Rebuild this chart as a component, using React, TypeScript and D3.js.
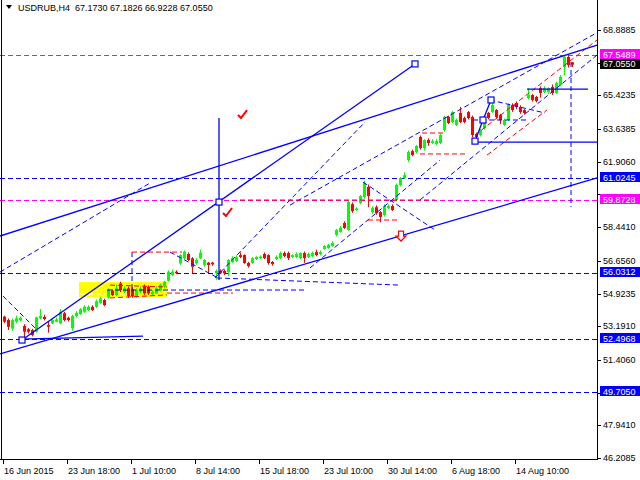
import React from "react";
import * as d3 from "d3";

const opens = [53.70,53.52,53.07,53.43,53.52,53.20,53.03,52.99,52.90,53.61,53.69,53.25,53.34,53.43,53.34,53.88,53.64,53.09,53.73,53.84,53.96,54.05,54.22,54.22,54.43,54.58,54.72,55.07,54.84,55.46,55.02,55.20,55.15,54.77,55.02,55.29,55.29,54.88,54.93,55.11,55.29,55.60,55.91,56.08,56.52,56.79,57.02,56.79,56.52,56.79,56.43,56.56,56.56,55.99,56.13,56.13,56.06,56.59,56.65,56.96,56.96,56.54,56.54,56.75,56.80,57.02,56.96,56.60,56.75,56.80,57.07,57.07,56.86,56.86,56.80,57.07,56.86,56.91,57.12,57.02,57.28,57.33,57.44,58.03,58.19,58.66,58.29,59.66,59.35,59.72,60.04,60.57,59.24,59.50,59.24,59.08,59.45,59.56,59.88,60.67,61.04,62.00,62.47,62.42,63.22,62.63,63.06,62.90,62.85,62.90,63.59,64.28,64.01,63.85,64.49,64.22,64.54,64.28,63.38,63.32,63.69,64.49,64.54,64.65,64.38,63.85,64.12,64.91,65.02,64.81,64.65,65.28,65.44,65.34,65.81,65.60,65.60,65.87,65.55,65.97,66.93,67.46,67.173];
const highs = [53.75,53.60,53.60,53.75,53.70,53.30,53.10,53.05,53.70,54.10,53.80,53.45,53.60,53.65,54.10,53.95,53.70,53.80,54.00,54.15,54.30,54.30,54.30,54.60,54.75,54.65,55.20,55.15,55.40,55.55,55.30,55.30,55.25,55.20,55.30,55.40,55.35,55.10,55.30,55.45,55.60,56.15,56.20,56.15,57.00,57.20,57.10,56.85,56.80,57.25,56.75,56.60,56.60,56.20,56.20,56.20,56.75,56.90,56.95,57.10,57.00,56.60,56.85,56.90,56.95,57.10,57.00,56.65,56.95,57.15,57.15,57.15,57.00,57.10,57.10,57.15,57.10,57.15,57.25,57.20,57.50,57.55,57.70,58.35,58.50,58.75,59.85,59.75,59.50,60.15,60.90,60.70,59.55,59.60,59.30,59.65,59.65,59.65,60.75,61.10,61.35,62.50,62.55,62.80,63.30,63.10,63.15,63.10,63.10,63.40,64.35,64.35,64.60,64.20,64.81,64.30,64.60,64.35,63.45,63.65,64.20,64.55,65.20,64.70,64.45,64.20,65.00,65.00,65.10,64.90,64.70,65.80,65.50,65.40,65.90,65.90,65.85,66.00,66.15,66.50,67.55,67.55,67.1826];
const lows = [53.35,52.99,52.95,53.35,53.45,52.52,52.80,52.65,52.85,53.55,53.50,52.85,53.30,53.40,53.30,53.45,53.45,52.95,53.65,53.80,53.90,54.00,54.00,54.15,54.38,54.25,54.65,54.80,54.80,55.00,54.95,54.70,54.70,54.70,54.95,54.85,54.85,54.85,54.90,55.05,55.20,55.55,55.85,55.95,56.45,56.75,56.65,56.00,56.45,56.75,56.35,55.99,56.40,55.65,55.95,55.90,55.85,56.55,56.60,56.80,56.50,56.30,56.50,56.70,56.75,56.75,56.45,56.40,56.70,56.75,56.85,56.70,56.80,56.80,56.75,56.55,56.80,56.85,56.90,56.95,57.25,57.30,57.40,57.95,58.15,58.35,58.25,59.20,59.30,59.65,59.95,59.50,59.15,59.10,58.70,59.00,59.40,59.30,59.80,60.60,61.00,61.90,62.20,62.35,62.55,62.50,62.75,62.85,62.80,62.85,63.50,63.90,63.95,63.80,63.95,63.95,64.15,63.20,62.95,63.25,63.60,64.15,64.50,64.20,63.90,63.80,64.05,64.55,64.70,64.45,64.40,65.20,65.10,65.05,65.30,65.55,65.50,65.45,65.50,65.90,66.50,66.90,66.9228];
const closes = [53.43,53.16,53.52,53.61,53.64,52.90,52.90,52.72,53.66,53.73,53.57,53.16,53.52,53.55,53.96,53.52,53.52,53.73,53.90,54.09,54.22,54.22,54.05,54.52,54.67,54.31,55.11,54.84,55.20,55.11,55.20,54.79,54.77,55.11,55.20,54.93,54.93,55.02,55.20,55.38,55.55,56.08,56.08,56.00,56.96,57.14,56.70,56.34,56.70,57.09,56.70,56.43,56.47,56.13,56.00,55.99,56.70,56.80,56.85,56.86,56.54,56.38,56.80,56.86,56.88,56.80,56.54,56.49,56.86,57.07,56.91,56.80,56.96,57.02,57.07,56.80,57.02,57.07,56.96,57.12,57.44,57.50,57.60,58.29,58.40,58.40,59.77,59.29,59.43,60.09,60.78,60.09,59.45,59.19,58.98,59.56,59.56,59.35,60.67,61.04,61.20,62.42,62.26,62.74,62.63,63.06,62.90,63.00,63.00,63.32,64.28,63.96,64.54,64.12,64.01,64.01,64.22,63.32,63.22,63.59,64.12,64.22,64.91,64.28,64.12,64.12,64.91,64.65,64.81,64.54,64.49,65.44,65.18,65.12,65.55,65.81,65.81,65.55,66.08,66.40,67.46,67.03,67.055];

const xLabels = ["16 Jun 2015", "23 Jun 18:00", "1 Jul 10:00", "8 Jul 14:00", "15 Jul 18:00", "23 Jul 10:00", "30 Jul 14:00", "6 Aug 18:00", "14 Aug 10:00"];
const xLabelBars = [0, 16, 32, 48, 64, 80, 96, 112, 128];
const yTicks = [68.8885, 67.156, 65.4235, 63.6385, 61.906, 60.1735, 58.441, 56.656, 54.9235, 53.191, 51.406, 49.6735, 47.941, 46.2085];
const magentaLevels = [67.5489, 59.8728];
const blueLevels = [61.0245, 56.0312, 52.4968, 49.705];
const symbol = "USDRUB,H4";

type Pt = [number, number];
const blueSolid: Pt[][] = [
  [[-1, 57.97], [148.25, 68.09]],
  [[-1, 51.72], [148.25, 61.05]],
  [[4.5, 52.46], [102.75, 67.09]],
  [[4, 52.51], [34.75, 52.67]],
  [[53.75, 64.23], [53.75, 55.64]],
  [[130.75, 65.76], [146, 65.76]],
  [[117.75, 62.95], [148.25, 62.95]],
  [[117.75, 63.0], [119.75, 64.12], [121.75, 65.18]],
];
const blueSquares: Pt[] = [[4.5, 52.46], [102.75, 67.09], [53.75, 59.77], [117.75, 63.0], [119.75, 64.12], [121.75, 65.18]];
const blueDashed: Pt[][] = [
  [[-1, 56.06], [36.5, 60.78]],
  [[-0.25, 54.79], [7.75, 53.1]],
  [[52.75, 55.75], [90.25, 64.01]],
  [[76.5, 56.28], [109, 61.99]],
  [[71.5, 59.61], [148.25, 68.75]],
  [[104, 59.88], [148.25, 67.56]],
  [[53.25, 55.75], [99, 55.37]],
  [[25.75, 55.11], [75.75, 55.11]],
  [[32, 57.12], [32, 55.11]],
  [[41.5, 57.12], [53.5, 55.75]],
  [[89.75, 60.83], [107.75, 58.29]],
  [[121.5, 65.18], [135.25, 64.49]],
  [[117.25, 64.12], [130.75, 64.12]],
  [[141.75, 67.19], [141.75, 59.51]],
];
const redDashed: Pt[][] = [
  [[32, 57.12], [44.5, 57.12]],
  [[59, 59.88], [107.75, 59.88]],
  [[91, 58.82], [99, 58.82]],
  [[104, 62.32], [115.75, 62.32]],
  [[117.75, 63.32], [148.25, 68.36]],
  [[26.5, 55.37], [40.75, 55.27]],
  [[26.5, 54.69], [40.75, 54.85]],
  [[40.75, 54.95], [57.25, 54.95]],
  [[120.75, 62.26], [135.75, 64.65]],
  [[104.5, 63.43], [109.75, 63.43]],
];
const whiteDashed: Pt[][] = [[[19, 54.9], [34, 54.9]]];
const yellowBox: Pt[] = [[18.75, 55.53], [40.75, 54.74]];
const redChecks: Pt[] = [[59.5, 64.38], [55.75, 59.19]];
const redArrows: Pt[] = [[99.25, 57.97]];

const FONT = "'Liberation Sans', Arial, sans-serif";
const GREEN = "#00ff00";
const RED = "#ff0000";
const BLUE = "#0000ff";
const MAGENTA = "#ff00ff";

export default function App() {
  const W = 640, H = 480;
  const x = d3.scaleLinear().domain([0, 148.25]).range([4, 597]);
  const y = d3.scaleLinear().domain([46.2085, 68.8885]).range([458, 30]);
  const line = d3.line<Pt>().x((d) => x(d[0])).y((d) => y(d[1]));
  const last = closes[closes.length - 1];
  const boxes = [
    ...magentaLevels.map((v) => ({ v, c: MAGENTA })),
    ...blueLevels.map((v) => ({ v, c: BLUE })),
    { v: last, c: "#000000" },
  ];
  const boxTop = (v: number) => Math.round(y(v)) - 6;

  return (
    <svg width={W} height={H} style={{ position: "absolute", left: 0, top: 0, background: "#fff" }} fontFamily={FONT}>
      <defs>
        {yTicks.map((v, k) => {
          const near = boxes.filter((b) => Math.abs(y(b.v) - y(v)) < 12);
          const top = near.length ? Math.min(...near.map((b) => boxTop(b.v))) : 480;
          return (
            <clipPath key={"cp" + k} id={"cp" + k}>
              <rect x={598} y={0} width={42} height={top} />
            </clipPath>
          );
        })}
      </defs>
      <rect x={0} y={0} width={W} height={H} fill="#fff" />
      <rect
        x={x(yellowBox[0][0])}
        y={y(yellowBox[0][1])}
        width={x(yellowBox[1][0]) - x(yellowBox[0][0])}
        height={y(yellowBox[1][1]) - y(yellowBox[0][1])}
        fill="#ffff00"
      />
      {whiteDashed.map((l, k) => (
        <path key={"w" + k} d={line(l) || ""} stroke="#fff" strokeWidth={1} strokeDasharray="5,3" fill="none" />
      ))}
      {magentaLevels.map((v, k) => (
        <line key={"m" + k} x1={0} x2={597} y1={Math.round(y(v)) + 0.5} y2={Math.round(y(v)) + 0.5} stroke={MAGENTA} strokeDasharray="5,3" />
      ))}
      {blueLevels.map((v, k) => (
        <line key={"b" + k} x1={0} x2={597} y1={Math.round(y(v)) + 0.5} y2={Math.round(y(v)) + 0.5} stroke={BLUE} strokeDasharray="5,3" />
      ))}
      {closes.map((c, i) => {
        const o = opens[i];
        const up = c >= o;
        const col = up ? GREEN : RED;
        const cx = Math.round(x(i));
        const top = y(Math.max(o, c));
        const bot = y(Math.min(o, c));
        return (
          <g key={"c" + i}>
            <line x1={cx + 0.5} x2={cx + 0.5} y1={y(highs[i])} y2={y(lows[i])} stroke={col} />
            <rect x={cx - 1} y={top} width={3} height={Math.max(1, bot - top)} fill={col} />
          </g>
        );
      })}
      {blueDashed.map((l, k) => (
        <path key={"bd" + k} d={line(l) || ""} stroke={BLUE} strokeWidth={1} strokeDasharray="5,3" fill="none" />
      ))}
      {redDashed.map((l, k) => (
        <path key={"rd" + k} d={line(l) || ""} stroke={RED} strokeWidth={1} strokeDasharray="5,3" fill="none" />
      ))}
      {blueSolid.map((l, k) => (
        <path key={"bs" + k} d={line(l) || ""} stroke={BLUE} strokeWidth={1.3} fill="none" />
      ))}
      {blueSquares.map((p, k) => (
        <rect key={"sq" + k} x={x(p[0]) - 3} y={y(p[1]) - 3} width={6} height={6} fill="#fff" stroke={BLUE} strokeWidth={1.2} />
      ))}
      {redChecks.map((p, k) => (
        <path key={"ck" + k} transform={`translate(${x(p[0])},${y(p[1])})`} d="M-4,0 L-1,3 L5,-5" stroke={RED} strokeWidth={2} fill="none" />
      ))}
      {redArrows.map((p, k) => (
        <path key={"ar" + k} transform={`translate(${x(p[0])},${y(p[1])})`} d="M-2.5,-5 L2.5,-5 L2.5,0 L5,0 L0,5 L-5,0 L-2.5,0 Z" stroke={RED} strokeWidth={1.2} fill="#fff" />
      ))}
      {/* frame */}
      <line x1={1.5} x2={1.5} y1={0} y2={460} stroke="#000" />
      <line x1={0} x2={598} y1={459.5} y2={459.5} stroke="#000" />
      <line x1={597.5} x2={597.5} y1={0} y2={460} stroke="#000" />
      {/* y axis */}
      {yTicks.map((v, k) => {
        const hidden = boxes.some((b) => Math.abs(y(b.v) - y(v)) < 6);
        return (
          <g key={"yt" + k}>
            <line x1={597} x2={601} y1={Math.round(y(v)) + 0.5} y2={Math.round(y(v)) + 0.5} stroke="#000" />
            {!hidden && (
              <text x={603} y={y(v) + 3} fontSize={9} fill="#000" clipPath={`url(#cp${k})`}>{v.toFixed(4)}</text>
            )}
          </g>
        );
      })}
      {boxes.map((b, k) => (
        <g key={"bx" + k}>
          <rect x={600} y={boxTop(b.v)} width={40} height={10} fill={b.c} />
          <text x={603} y={y(b.v) + 2.5} fontSize={9} fill="#fff">{b.v.toFixed(4)}</text>
        </g>
      ))}
      {/* x axis */}
      {xLabelBars.map((i, k) => (
        <g key={"xt" + k}>
          <line x1={Math.round(x(i)) - 0.5} x2={Math.round(x(i)) - 0.5} y1={460} y2={464} stroke="#000" />
          <text x={Math.round(x(i))} y={474} fontSize={9} fill="#000">{xLabels[k]}</text>
        </g>
      ))}
      {/* title */}
      <path d="M6,5 L12,5 L9,9 Z" fill="#000" />
      <text x={18} y={11} fontSize={9} fill="#000" xmlSpace="preserve">
        {`${symbol}  ${opens[opens.length - 1].toFixed(4)} ${highs[highs.length - 1].toFixed(4)} ${lows[lows.length - 1].toFixed(4)} ${closes[closes.length - 1].toFixed(4)}`}
      </text>
    </svg>
  );
}
